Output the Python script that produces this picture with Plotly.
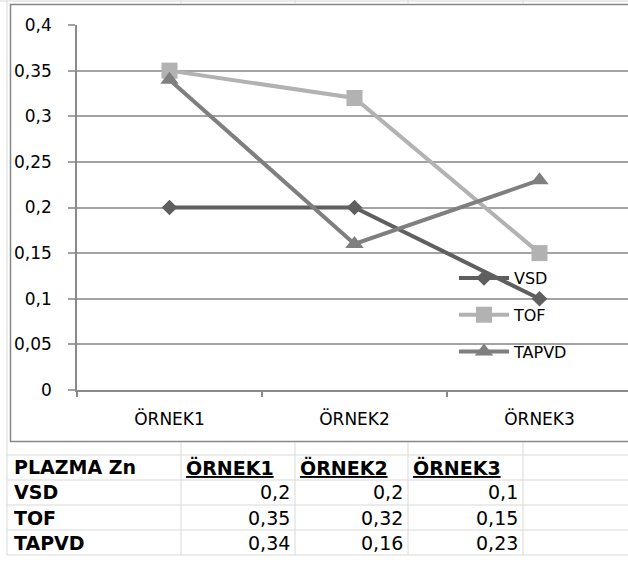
import plotly.graph_objects as go

# ---- data ----
categories = ["ÖRNEK1", "ÖRNEK2", "ÖRNEK3"]
series_names = ["VSD", "TOF", "TAPVD"]
vsd = [0.2, 0.2, 0.1]
tof = [0.35, 0.32, 0.15]
tapvd = [0.34, 0.16, 0.23]
y_ticks = [0, 0.05, 0.1, 0.15, 0.2, 0.25, 0.3, 0.35, 0.4]
y_tick_labels = ["0", "0,05", "0,1", "0,15", "0,2", "0,25", "0,3", "0,35", "0,4"]
table_title = "PLAZMA Zn"

# ---- page geometry (pixels) ----
W, H = 628, 579
PLOT_L, PLOT_R, PLOT_T, PLOT_B = 77, 628, 25, 390
CAT_W = 185                         # pixel width of one category band
COL_EDGES = [7, 181, 295, 408, 523]  # sheet column boundaries
ROW_TOP, ROW_H = 455, 25             # sheet rows holding the data table


def fx(p):
    return p / W


def fy(p):
    return 1 - p / H


FONT = "DejaVu Sans"
styles = {
    "VSD": dict(color="#5f5f5f", symbol="diamond", size=12),
    "TOF": dict(color="#b2b2b2", symbol="square", size=16),
    "TAPVD": dict(color="#7f7f7f", symbol="triangle-up", size=16),
}
series_values = {"VSD": vsd, "TOF": tof, "TAPVD": tapvd}

fig = go.Figure()
for name in series_names:
    st = styles[name]
    fig.add_trace(go.Scatter(
        x=categories, y=series_values[name], name=name, mode="lines+markers",
        line=dict(color=st["color"], width=4),
        marker=dict(color=st["color"], symbol=st["symbol"], size=st["size"]),
        legendgroup=name,
    ))

# ---- data table written into the sheet cells below the chart ----
def fmt(v):
    return f"{v:g}".replace(".", ",")


annotations = []


def cell_text(text, px, row, anchor, bold=False, underline=False):
    font = dict(family=FONT, size=19, color="black")
    if bold:
        font["weight"] = "bold"
    if underline:
        font["lineposition"] = "under"
    annotations.append(dict(
        text=text, xref="paper", yref="paper",
        x=fx(px), y=fy(ROW_TOP + ROW_H * (row + 0.5)),
        xanchor=anchor, yanchor="middle", showarrow=False, font=font,
    ))


cell_text(table_title, COL_EDGES[0] + 5, 0, "left", bold=True)
for j, cat in enumerate(categories):
    cell_text(cat, COL_EDGES[j + 1] + 3, 0, "left", bold=True, underline=True)
for i, name in enumerate(series_names):
    cell_text(name, COL_EDGES[0] + 5, i + 1, "left", bold=True)
    for j in range(len(categories)):
        right_edge = COL_EDGES[j + 2] if j + 2 < len(COL_EDGES) else COL_EDGES[-1]
        cell_text(fmt(series_values[name][j]), right_edge - 3, i + 1, "right")

# ---- sheet gridlines and chart frame ----
shapes = []
light = dict(color="#d9d9d9", width=1)
n_rows = len(series_names) + 1
table_bottom = ROW_TOP + ROW_H * n_rows
shapes.append(dict(type="line", xref="paper", yref="paper", x0=0, x1=1, y0=fy(1), y1=fy(1), line=light))
for r in range(n_rows + 1):
    yy = ROW_TOP + ROW_H * r
    shapes.append(dict(type="line", xref="paper", yref="paper", x0=fx(COL_EDGES[0]), x1=1,
                       y0=fy(yy), y1=fy(yy), line=light))
shapes.append(dict(type="line", xref="paper", yref="paper", x0=fx(COL_EDGES[0]), x1=fx(COL_EDGES[0]),
                   y0=fy(0), y1=fy(table_bottom), line=light))
for cx in COL_EDGES[1:]:
    shapes.append(dict(type="line", xref="paper", yref="paper", x0=fx(cx), x1=fx(cx),
                       y0=fy(0), y1=fy(4), line=light))
    shapes.append(dict(type="line", xref="paper", yref="paper", x0=fx(cx), x1=fx(cx),
                       y0=fy(442), y1=fy(table_bottom), line=light))
shapes.append(dict(type="rect", xref="paper", yref="paper", x0=fx(10.5), x1=1.05, y0=fy(4.5), y1=fy(441.5),
                   line=dict(color="#878787", width=1.5), fillcolor="rgba(0,0,0,0)", layer="below"))

fig.update_layout(
    width=W, height=H,
    margin=dict(l=0, r=0, t=0, b=0, pad=0, autoexpand=False),
    paper_bgcolor="white", plot_bgcolor="white",
    font=dict(family=FONT, size=17, color="black"),
    shapes=shapes,
    annotations=annotations,
    xaxis=dict(
        domain=[fx(PLOT_L), fx(PLOT_R)],
        type="category", automargin=False,
        range=[-0.5, -0.5 + (PLOT_R - PLOT_L) / CAT_W],
        showgrid=False, zeroline=False,
        showline=True, linecolor="#8a8a8a", linewidth=1.5,
        ticks="outside", tickson="boundaries", ticklen=5, tickcolor="#8a8a8a", tickwidth=1.5,
        ticklabelstandoff=13,
        tickfont=dict(family=FONT, size=17, color="black"),
    ),
    yaxis=dict(
        domain=[fy(PLOT_B), fy(PLOT_T)],
        range=[0, 0.4], automargin=False,
        tickvals=y_ticks, ticktext=y_tick_labels,
        showgrid=True, gridcolor="#a3a3a3", gridwidth=1.5,
        zeroline=False,
        showline=True, linecolor="#8a8a8a", linewidth=1.5,
        ticks="outside", ticklen=7, tickcolor="#a3a3a3", tickwidth=1.5,
        ticklabelstandoff=13,
        tickfont=dict(family=FONT, size=17, color="black"),
    ),
    showlegend=True,
    legend=dict(
        x=fx(454), y=fy(261), xanchor="left", yanchor="top",
        bgcolor="rgba(0,0,0,0)", borderwidth=0,
        font=dict(family=FONT, size=16, color="black"),
        itemwidth=50, tracegroupgap=13, traceorder="grouped",
    ),
)

fig.write_html("out.html")
